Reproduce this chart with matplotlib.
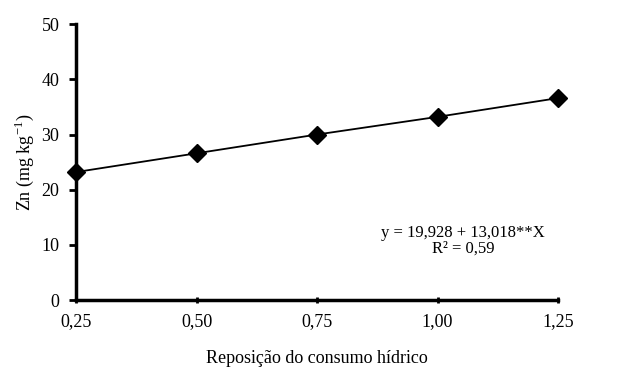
import matplotlib
matplotlib.use("Agg")
import matplotlib.pyplot as plt

# Water consumption replacement levels and zinc content
reposicao = [0.25, 0.50, 0.75, 1.00, 1.25]
zn = [23.2, 26.6, 30.0, 33.2, 36.6]
x_ticks = [0.25, 0.50, 0.75, 1.00, 1.25]
x_labels = ["0,25", "0,50", "0,75", "1,00", "1,25"]
y_ticks = [0, 10, 20, 30, 40, 50]

plt.rcParams["font.family"] = ["Liberation Serif", "DejaVu Serif"]

fig = plt.figure(figsize=(6.18, 3.71), dpi=100)
ax = fig.add_axes([0.123, 0.191, 0.780, 0.744])

ax.plot(reposicao, zn, color="black", lw=1.3, marker="D", markersize=9,
        markerfacecolor="black", markeredgecolor="black", clip_on=False, zorder=3)

ax.set_xlim(0.25, 1.25)
ax.set_ylim(0, 50)
ax.set_xticks(x_ticks)
ax.set_xticklabels(x_labels)
ax.set_yticks(y_ticks)

for s in ("top", "right"):
    ax.spines[s].set_visible(False)
for s in ("left", "bottom"):
    ax.spines[s].set_linewidth(2.5)

ax.tick_params(axis="both", labelsize=13, width=2, length=5, pad=7)
ax.tick_params(axis="x", direction="inout")

ax.set_ylabel(r"Zn (mg kg$^{\mathregular{-1}}$)", fontsize=13, labelpad=4)
ax.set_xlabel("Reposição do consumo hídrico", fontsize=13, labelpad=14)

ax.text(1.053, 12.2, "y = 19,928 + 13,018**X", ha="center", va="center", fontsize=12)
ax.text(1.053, 9.3, "R² = 0,59", ha="center", va="center", fontsize=12)

fig.savefig("out.png", dpi=100)
